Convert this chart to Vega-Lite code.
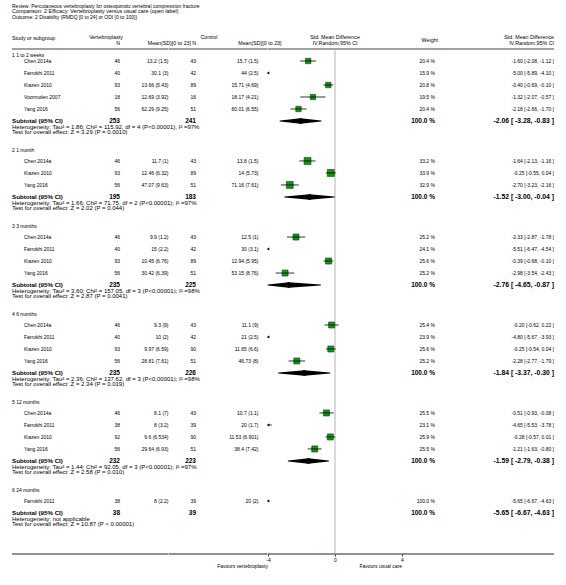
{
  "$schema": "https://vega.github.io/schema/vega-lite/v6.json",
  "padding": {"left": 11, "top": 0, "right": 14, "bottom": 0},
  "spacing": 0,
  "bounds": "flush",
  "config": {
    "view": {"stroke": null},
    "axisY": {"disable": true},
    "text": {"font": "Liberation Sans", "fontSize": 5, "baseline": "middle", "color": "#000000"},
    "axis": {"labelFont": "Liberation Sans", "titleFont": "Liberation Sans"},
    "locale": {"number": {"decimal": ".", "thousands": ",", "grouping": [3], "currency": ["$", ""], "percent": " %", "minus": "-"}}
  },
  "datasets": {
    "studies": [
      {"group": 1, "row": 1, "study": "Chen 2014a", "n1": 46, "m1": "13.2 (1.5)", "n2": 43, "m2": "15.7 (1.5)", "weight": 0.204, "smd": -1.60, "lo": -2.08, "hi": -1.12, "ci": "-1.60 [-2.08, -1.12 ]"},
      {"group": 1, "row": 2, "study": "Farrokhi 2011", "n1": 40, "m1": "30.1 (3)", "n2": 42, "m2": "44 (2.5)", "weight": 0.159, "smd": -5.00, "lo": -5.89, "hi": -4.10, "ci": "-5.00 [-5.89, -4.10 ]"},
      {"group": 1, "row": 3, "study": "Kiazen 2010", "n1": 93, "m1": "13.66 (5.43)", "n2": 89, "m2": "15.71 (4.69)", "weight": 0.208, "smd": -0.40, "lo": -0.69, "hi": -0.10, "ci": "-0.40 [-0.69, -0.10 ]"},
      {"group": 1, "row": 4, "study": "Voormolen 2007", "n1": 18, "m1": "12.69 (3.92)", "n2": 16, "m2": "18.17 (4.21)", "weight": 0.195, "smd": -1.32, "lo": -2.07, "hi": -0.57, "ci": "-1.32 [-2.07, -0.57 ]"},
      {"group": 1, "row": 5, "study": "Yang 2016", "n1": 56, "m1": "62.29 (9.25)", "n2": 51, "m2": "80.01 (6.55)", "weight": 0.204, "smd": -2.18, "lo": -2.66, "hi": -1.70, "ci": "-2.18 [-2.66, -1.70 ]"},
      {"group": 2, "row": 9.33, "study": "Chen 2014a", "n1": 46, "m1": "11.7 (1)", "n2": 43, "m2": "13.8 (1.5)", "weight": 0.332, "smd": -1.64, "lo": -2.13, "hi": -1.16, "ci": "-1.64 [-2.13, -1.16 ]"},
      {"group": 2, "row": 10.33, "study": "Kiazen 2010", "n1": 93, "m1": "12.46 (6.32)", "n2": 89, "m2": "14 (5.73)", "weight": 0.339, "smd": -0.25, "lo": -0.55, "hi": 0.04, "ci": "-0.25 [-0.55, 0.04 ]"},
      {"group": 2, "row": 11.33, "study": "Yang 2016", "n1": 56, "m1": "47.07 (9.63)", "n2": 51, "m2": "71.16 (7.61)", "weight": 0.329, "smd": -2.70, "lo": -3.23, "hi": -2.16, "ci": "-2.70 [-3.23, -2.16 ]"},
      {"group": 3, "row": 15.67, "study": "Chen 2014a", "n1": 46, "m1": "9.9 (1.2)", "n2": 43, "m2": "12.5 (1)", "weight": 0.252, "smd": -2.33, "lo": -2.87, "hi": -1.78, "ci": "-2.33 [-2.87, -1.78 ]"},
      {"group": 3, "row": 16.67, "study": "Farrokhi 2011", "n1": 40, "m1": "15 (2.2)", "n2": 42, "m2": "30 (3.1)", "weight": 0.241, "smd": -5.51, "lo": -6.47, "hi": -4.54, "ci": "-5.51 [-6.47, -4.54 ]"},
      {"group": 3, "row": 17.67, "study": "Kiazen 2010", "n1": 93, "m1": "10.45 (6.76)", "n2": 89, "m2": "12.94 (5.95)", "weight": 0.256, "smd": -0.39, "lo": -0.68, "hi": -0.10, "ci": "-0.39 [-0.68, -0.10 ]"},
      {"group": 3, "row": 18.67, "study": "Yang 2016", "n1": 56, "m1": "30.42 (6.39)", "n2": 51, "m2": "53.15 (8.76)", "weight": 0.252, "smd": -2.98, "lo": -3.54, "hi": -2.43, "ci": "-2.98 [-3.54, -2.43 ]"},
      {"group": 4, "row": 23, "study": "Chen 2014a", "n1": 46, "m1": "9.3 (9)", "n2": 43, "m2": "11.1 (9)", "weight": 0.254, "smd": -0.20, "lo": -0.62, "hi": 0.22, "ci": "-0.20 [-0.62, 0.22 ]"},
      {"group": 4, "row": 24, "study": "Farrokhi 2011", "n1": 40, "m1": "10 (2)", "n2": 42, "m2": "21 (2.5)", "weight": 0.239, "smd": -4.80, "lo": -5.67, "hi": -3.93, "ci": "-4.80 [-5.67, -3.93 ]"},
      {"group": 4, "row": 25, "study": "Kiazen 2010", "n1": 93, "m1": "9.97 (6.59)", "n2": 90, "m2": "11.65 (6.6)", "weight": 0.256, "smd": -0.25, "lo": -0.54, "hi": 0.04, "ci": "-0.25 [-0.54, 0.04 ]"},
      {"group": 4, "row": 26, "study": "Yang 2016", "n1": 56, "m1": "28.81 (7.61)", "n2": 51, "m2": "46.73 (8)", "weight": 0.252, "smd": -2.28, "lo": -2.77, "hi": -1.79, "ci": "-2.28 [-2.77, -1.79 ]"},
      {"group": 5, "row": 30.33, "study": "Chen 2014a", "n1": 46, "m1": "8.1 (7)", "n2": 43, "m2": "10.7 (1.1)", "weight": 0.255, "smd": -0.51, "lo": -0.93, "hi": -0.08, "ci": "-0.51 [-0.93, -0.08 ]"},
      {"group": 5, "row": 31.33, "study": "Farrokhi 2011", "n1": 38, "m1": "8 (3.2)", "n2": 39, "m2": "20 (1.7)", "weight": 0.231, "smd": -4.65, "lo": -5.53, "hi": -3.78, "ci": "-4.65 [-5.53, -3.78 ]"},
      {"group": 5, "row": 32.33, "study": "Kiazen 2010", "n1": 92, "m1": "9.6 (6.534)", "n2": 90, "m2": "11.53 (6.901)", "weight": 0.259, "smd": -0.28, "lo": -0.57, "hi": 0.01, "ci": "-0.28 [-0.57, 0.01 ]"},
      {"group": 5, "row": 33.33, "study": "Yang 2016", "n1": 56, "m1": "29.64 (6.93)", "n2": 51, "m2": "38.4 (7.42)", "weight": 0.255, "smd": -1.21, "lo": -1.63, "hi": -0.80, "ci": "-1.21 [-1.63, -0.80 ]"},
      {"group": 6, "row": 37.67, "study": "Farrokhi 2011", "n1": 38, "m1": "8 (2.2)", "n2": 39, "m2": "20 (2)", "weight": 1.0, "smd": -5.65, "lo": -6.67, "hi": -4.63, "ci": "-5.65 [-6.67, -4.63 ]"}
    ],
    "subtotals": [
      {"group": 1, "row": 6, "n1": 253, "n2": 241, "weight": 1.0, "smd": -2.06, "lo": -3.28, "hi": -0.83, "ci": "-2.06 [ -3.28, -0.83 ]", "het": "Heterogeneity: Tau² = 1.86; Chi² = 115.92, df = 4 (P<0.00001); I² =97%", "test": "Test for overall effect: Z = 3.29 (P = 0.0010)"},
      {"group": 2, "row": 12.33, "n1": 195, "n2": 183, "weight": 1.0, "smd": -1.52, "lo": -3.00, "hi": -0.04, "ci": "-1.52 [ -3.00, -0.04 ]", "het": "Heterogeneity: Tau² = 1.66; Chi² = 71.75, df = 2 (P<0.00001); I² =97%", "test": "Test for overall effect: Z = 2.02 (P = 0.044)"},
      {"group": 3, "row": 19.67, "n1": 235, "n2": 225, "weight": 1.0, "smd": -2.76, "lo": -4.65, "hi": -0.87, "ci": "-2.76 [ -4.65, -0.87 ]", "het": "Heterogeneity: Tau² = 3.60; Chi² = 157.05, df = 3 (P<0.00001); I² =98%", "test": "Test for overall effect: Z = 2.87 (P = 0.0041)"},
      {"group": 4, "row": 27, "n1": 235, "n2": 226, "weight": 1.0, "smd": -1.84, "lo": -3.37, "hi": -0.30, "ci": "-1.84 [ -3.37, -0.30 ]", "het": "Heterogeneity: Tau² = 2.36; Chi² = 137.62, df = 3 (P<0.00001); I² =98%", "test": "Test for overall effect: Z = 2.34 (P = 0.019)"},
      {"group": 5, "row": 34.33, "n1": 232, "n2": 223, "weight": 1.0, "smd": -1.59, "lo": -2.79, "hi": -0.38, "ci": "-1.59 [ -2.79, -0.38 ]", "het": "Heterogeneity: Tau² = 1.44; Chi² = 92.05, df = 3 (P<0.00001); I² =97%", "test": "Test for overall effect: Z = 2.58 (P = 0.010)"},
      {"group": 6, "row": 38.67, "n1": 38, "n2": 39, "weight": 1.0, "smd": -5.65, "lo": -6.67, "hi": -4.63, "ci": "-5.65 [ -6.67, -4.63 ]", "het": "Heterogeneity: not applicable", "test": "Test for overall effect: Z = 10.87 (P < 0.00001)"}
    ],
    "groups": [
      {"row": 0.5, "label": "1 1 to 2 weeks"},
      {"row": 8.42, "label": "2 1 month"},
      {"row": 14.75, "label": "3 3 months"},
      {"row": 22.08, "label": "4 6 months"},
      {"row": 29.42, "label": "5 12 months"},
      {"row": 36.75, "label": "6 24 months"}
    ],
    "favours": [
      {"label": "Favours vertebroplasty", "at": -4},
      {"label": "Favours usual care", "at": 4}
    ]
  },
  "hconcat": [
    {
      "width": 89, "height": 585,
      "layer": [
        {"data": {"values": [{}]}, "mark": {"type": "rule", "stroke": "#444444", "strokeWidth": 1}, "encoding": {"y": {"datum": 0, "type": "quantitative", "scale": {"domain": [-4.0833, 44.6667], "reverse": true, "nice": false, "zero": false}}}},
        {"data": {"values": [{}]}, "mark": {"type": "rule", "stroke": "#222222", "strokeWidth": 1}, "encoding": {"y": {"datum": 42.083, "type": "quantitative"}}},
        {"data": {"values": [{}]}, "mark": {"type": "text", "align": "left", "x": 0}, "encoding": {"y": {"datum": -3.58, "type": "quantitative"}, "text": {"value": "Review: Percutaneous vertebroplasty for osteoporotic vertebral compression fracture"}}},
        {"data": {"values": [{}]}, "mark": {"type": "text", "align": "left", "x": 0, "fontSize": 5.4}, "encoding": {"y": {"datum": -3.13, "type": "quantitative"}, "text": {"value": "Comparison: 2 Efficacy: Vertebroplasty versus usual care (open label)"}}},
        {"data": {"values": [{}]}, "mark": {"type": "text", "align": "left", "x": 0}, "encoding": {"y": {"datum": -2.67, "type": "quantitative"}, "text": {"value": "Outcome: 2 Disability (RMDQ [0 to 24] or ODI [0 to 100])"}}},
        {"data": {"values": [{}]}, "mark": {"type": "text", "align": "left", "x": 0, "fontSize": 5.3}, "encoding": {"y": {"datum": -0.92, "type": "quantitative"}, "text": {"value": "Study or subgroup"}}},
        {"data": {"name": "groups"}, "mark": {"type": "text", "align": "left", "x": 0}, "encoding": {"y": {"field": "row", "type": "quantitative"}, "text": {"field": "label", "type": "nominal"}}},
        {"data": {"name": "studies"}, "mark": {"type": "text", "align": "left", "x": 0, "dx": 12}, "encoding": {"y": {"field": "row", "type": "quantitative"}, "text": {"field": "study", "type": "nominal"}}},
        {"data": {"name": "subtotals"}, "mark": {"type": "text", "align": "left", "x": 0, "fontSize": 6.2, "fontWeight": "bold"}, "encoding": {"y": {"field": "row", "type": "quantitative"}, "text": {"value": "Subtotal (95% CI)"}}},
        {"data": {"name": "subtotals"}, "mark": {"type": "text", "align": "left", "x": 0, "dy": 5.6, "fontSize": 6}, "encoding": {"y": {"field": "row", "type": "quantitative"}, "text": {"field": "het", "type": "nominal"}}},
        {"data": {"name": "subtotals"}, "mark": {"type": "text", "align": "left", "x": 0, "dy": 10.8, "fontSize": 6}, "encoding": {"y": {"field": "row", "type": "quantitative"}, "text": {"field": "test", "type": "nominal"}}}
      ]
    },
    {
      "width": 19, "height": 585,
      "layer": [
        {"data": {"values": [{}]}, "mark": {"type": "rule", "stroke": "#444444", "strokeWidth": 1}, "encoding": {"y": {"datum": 0, "type": "quantitative", "scale": {"domain": [-4.0833, 44.6667], "reverse": true, "nice": false, "zero": false}}}},
        {"data": {"values": [{}]}, "mark": {"type": "rule", "stroke": "#222222", "strokeWidth": 1}, "encoding": {"y": {"datum": 42.083, "type": "quantitative"}}},
        {"data": {"values": [{}]}, "mark": {"type": "text", "align": "right", "x": "width", "dx": 3, "fontSize": 5.3}, "encoding": {"y": {"datum": -1.04, "type": "quantitative"}, "text": {"value": "Vertebroplasty"}}},
        {"data": {"values": [{}]}, "mark": {"type": "text", "align": "right", "x": "width", "fontSize": 5.3}, "encoding": {"y": {"datum": -0.54, "type": "quantitative"}, "text": {"value": "N"}}},
        {"data": {"name": "studies"}, "mark": {"type": "text", "align": "right", "x": "width"}, "encoding": {"y": {"field": "row", "type": "quantitative"}, "text": {"field": "n1", "type": "nominal"}}},
        {"data": {"name": "subtotals"}, "mark": {"type": "text", "align": "right", "x": "width", "fontSize": 6.5, "fontWeight": "bold"}, "encoding": {"y": {"field": "row", "type": "quantitative"}, "text": {"field": "n1", "type": "nominal"}}}
      ]
    },
    {
      "width": 48.5, "height": 585,
      "layer": [
        {"data": {"values": [{}]}, "mark": {"type": "rule", "stroke": "#444444", "strokeWidth": 1}, "encoding": {"y": {"datum": 0, "type": "quantitative", "scale": {"domain": [-4.0833, 44.6667], "reverse": true, "nice": false, "zero": false}}}},
        {"data": {"values": [{}]}, "mark": {"type": "rule", "stroke": "#222222", "strokeWidth": 1}, "encoding": {"y": {"datum": 42.083, "type": "quantitative"}}},
        {"data": {"values": [{}]}, "mark": {"type": "text", "align": "right", "x": "width", "dx": 22.5, "fontSize": 5.3}, "encoding": {"y": {"datum": -0.54, "type": "quantitative"}, "text": {"value": "Mean(SD)[0 to 23]"}}},
        {"data": {"name": "studies"}, "mark": {"type": "text", "align": "right", "x": "width"}, "encoding": {"y": {"field": "row", "type": "quantitative"}, "text": {"field": "m1", "type": "nominal"}}}
      ]
    },
    {
      "width": 27, "height": 585,
      "layer": [
        {"data": {"values": [{}]}, "mark": {"type": "rule", "stroke": "#444444", "strokeWidth": 1}, "encoding": {"y": {"datum": 0, "type": "quantitative", "scale": {"domain": [-4.0833, 44.6667], "reverse": true, "nice": false, "zero": false}}}},
        {"data": {"values": [{}]}, "mark": {"type": "rule", "stroke": "#222222", "strokeWidth": 1}, "encoding": {"y": {"datum": 42.083, "type": "quantitative"}}},
        {"data": {"values": [{}]}, "mark": {"type": "text", "align": "right", "x": "width", "dx": 21.5, "fontSize": 5.3}, "encoding": {"y": {"datum": -1.04, "type": "quantitative"}, "text": {"value": "Control"}}},
        {"data": {"values": [{}]}, "mark": {"type": "text", "align": "right", "x": "width", "fontSize": 5.3}, "encoding": {"y": {"datum": -0.54, "type": "quantitative"}, "text": {"value": "N"}}},
        {"data": {"name": "studies"}, "mark": {"type": "text", "align": "right", "x": "width"}, "encoding": {"y": {"field": "row", "type": "quantitative"}, "text": {"field": "n2", "type": "nominal"}}},
        {"data": {"name": "subtotals"}, "mark": {"type": "text", "align": "right", "x": "width", "fontSize": 6.5, "fontWeight": "bold"}, "encoding": {"y": {"field": "row", "type": "quantitative"}, "text": {"field": "n2", "type": "nominal"}}}
      ]
    },
    {
      "width": 71.5, "height": 585,
      "layer": [
        {"data": {"values": [{}]}, "mark": {"type": "rule", "stroke": "#444444", "strokeWidth": 1}, "encoding": {"y": {"datum": 0, "type": "quantitative", "scale": {"domain": [-4.0833, 44.6667], "reverse": true, "nice": false, "zero": false}}}},
        {"data": {"values": [{}]}, "mark": {"type": "rule", "stroke": "#222222", "strokeWidth": 1}, "encoding": {"y": {"datum": 42.083, "type": "quantitative"}}},
        {"data": {"values": [{}]}, "mark": {"type": "text", "align": "right", "x": "width", "dx": 14, "fontSize": 5.3}, "encoding": {"y": {"datum": -0.54, "type": "quantitative"}, "text": {"value": "Mean(SD)[0 to 23]"}}},
        {"data": {"name": "studies"}, "mark": {"type": "text", "align": "right", "x": "width", "dx": -9}, "encoding": {"y": {"field": "row", "type": "quantitative"}, "text": {"field": "m2", "type": "nominal"}}}
      ]
    },
    {
      "width": 134, "height": 585,
      "resolve": {"scale": {"size": "independent"}},
      "layer": [
        {"data": {"values": [{}]}, "mark": {"type": "rule", "stroke": "#444444", "strokeWidth": 1}, "encoding": {"y": {"datum": 0, "type": "quantitative", "scale": {"domain": [-4.0833, 44.6667], "reverse": true, "nice": false, "zero": false}}}},
        {"data": {"values": [{}]}, "mark": {"type": "rule", "stroke": "#222222", "strokeWidth": 1}, "encoding": {"y": {"datum": 42.083, "type": "quantitative"}}},
        {"data": {"values": [{}]}, "mark": {"type": "rule", "stroke": "#b4b4b4", "strokeWidth": 1}, "encoding": {
          "x": {"datum": 0, "type": "quantitative", "scale": {"domain": [-4, 4], "clamp": true, "nice": false, "zero": false},
                "axis": {"orient": "bottom", "offset": -31, "values": [-4, -2, 0, 2, 4], "domain": false, "grid": false, "title": null, "tickSize": 2, "tickWidth": 0.8, "tickColor": "#000000", "labelFontSize": 5, "labelPadding": 1, "labelColor": "#000000", "labelFlush": false, "labelOverlap": false}},
          "y": {"datum": 0, "type": "quantitative"},
          "y2": {"datum": 42.083}}},
        {"data": {"values": [{}]}, "mark": {"type": "text", "align": "center", "fontSize": 5.3}, "encoding": {"x": {"datum": 0, "type": "quantitative"}, "y": {"datum": -1.04, "type": "quantitative"}, "text": {"value": "Std. Mean Difference"}}},
        {"data": {"values": [{}]}, "mark": {"type": "text", "align": "center", "fontSize": 5.3}, "encoding": {"x": {"datum": 0, "type": "quantitative"}, "y": {"datum": -0.54, "type": "quantitative"}, "text": {"value": "IV,Random,95% CI"}}},
        {"data": {"name": "studies"}, "transform": [{"filter": "datum.smd >= -4"}], "mark": {"type": "point", "shape": "square", "filled": true, "fill": "#119911", "stroke": "#034503", "strokeWidth": 0.6, "opacity": 1}, "encoding": {
          "x": {"field": "smd", "type": "quantitative"},
          "y": {"field": "row", "type": "quantitative"},
          "size": {"field": "weight", "type": "quantitative", "scale": {"domain": [0, 0.35], "range": [0, 50]}, "legend": null}}},
        {"data": {"name": "studies"}, "mark": {"type": "rule", "stroke": "#000000", "strokeWidth": 0.8}, "encoding": {
          "x": {"field": "lo", "type": "quantitative"},
          "x2": {"field": "hi"},
          "y": {"field": "row", "type": "quantitative"}}},
        {"data": {"name": "studies"}, "transform": [{"filter": "datum.lo < -4"}], "mark": {"type": "point", "shape": "triangle-left", "filled": true, "color": "#000000", "size": 9, "opacity": 1}, "encoding": {
          "x": {"field": "lo", "type": "quantitative"},
          "y": {"field": "row", "type": "quantitative"}}},
        {"data": {"name": "subtotals"}, "transform": [{"filter": "datum.hi >= -4"}, {"fold": ["lo", "smd"], "as": ["k", "v"]}], "mark": {"type": "trail", "color": "#000000"}, "encoding": {
          "x": {"field": "v", "type": "quantitative"},
          "y": {"field": "row", "type": "quantitative"},
          "size": {"field": "k", "type": "ordinal", "scale": {"domain": ["lo", "smd"], "range": [0, 5.5], "padding": 0}, "legend": null},
          "detail": {"field": "group"},
          "order": {"field": "v", "type": "quantitative"}}},
        {"data": {"name": "subtotals"}, "transform": [{"filter": "datum.hi >= -4"}, {"fold": ["smd", "hi"], "as": ["k", "v"]}], "mark": {"type": "trail", "color": "#000000"}, "encoding": {
          "x": {"field": "v", "type": "quantitative"},
          "y": {"field": "row", "type": "quantitative"},
          "size": {"field": "k", "type": "ordinal", "scale": {"domain": ["hi", "smd"], "range": [0, 5.5], "padding": 0}, "legend": null},
          "detail": {"field": "group"},
          "order": {"field": "v", "type": "quantitative"}}},
        {"data": {"name": "favours"}, "mark": {"type": "text", "align": "right"}, "encoding": {
          "x": {"field": "at", "type": "quantitative"},
          "y": {"datum": 43.08, "type": "quantitative"},
          "text": {"field": "label", "type": "nominal"}}}
      ]
    },
    {
      "width": 33, "height": 585,
      "layer": [
        {"data": {"values": [{}]}, "mark": {"type": "rule", "stroke": "#444444", "strokeWidth": 1}, "encoding": {"y": {"datum": 0, "type": "quantitative", "scale": {"domain": [-4.0833, 44.6667], "reverse": true, "nice": false, "zero": false}}}},
        {"data": {"values": [{}]}, "mark": {"type": "rule", "stroke": "#222222", "strokeWidth": 1}, "encoding": {"y": {"datum": 42.083, "type": "quantitative"}}},
        {"data": {"values": [{}]}, "mark": {"type": "text", "align": "right", "x": "width", "dx": 3, "fontSize": 5.3}, "encoding": {"y": {"datum": -0.75, "type": "quantitative"}, "text": {"value": "Weight"}}},
        {"data": {"name": "studies"}, "mark": {"type": "text", "align": "right", "x": "width"}, "encoding": {"y": {"field": "row", "type": "quantitative"}, "text": {"field": "weight", "type": "quantitative", "format": ".1%"}}},
        {"data": {"name": "subtotals"}, "mark": {"type": "text", "align": "right", "x": "width", "fontSize": 6.5, "fontWeight": "bold"}, "encoding": {"y": {"field": "row", "type": "quantitative"}, "text": {"field": "weight", "type": "quantitative", "format": ".1%"}}}
      ]
    },
    {
      "width": 119, "height": 585,
      "layer": [
        {"data": {"values": [{}]}, "mark": {"type": "rule", "stroke": "#444444", "strokeWidth": 1}, "encoding": {"y": {"datum": 0, "type": "quantitative", "scale": {"domain": [-4.0833, 44.6667], "reverse": true, "nice": false, "zero": false}}}},
        {"data": {"values": [{}]}, "mark": {"type": "rule", "stroke": "#222222", "strokeWidth": 1}, "encoding": {"y": {"datum": 42.083, "type": "quantitative"}}},
        {"data": {"values": [{}]}, "mark": {"type": "text", "align": "right", "x": "width", "fontSize": 5.3}, "encoding": {"y": {"datum": -1.04, "type": "quantitative"}, "text": {"value": "Std. Mean Difference"}}},
        {"data": {"values": [{}]}, "mark": {"type": "text", "align": "right", "x": "width", "fontSize": 5.3}, "encoding": {"y": {"datum": -0.54, "type": "quantitative"}, "text": {"value": "IV,Random,95% CI"}}},
        {"data": {"name": "studies"}, "mark": {"type": "text", "align": "right", "x": "width"}, "encoding": {"y": {"field": "row", "type": "quantitative"}, "text": {"field": "ci", "type": "nominal"}}},
        {"data": {"name": "subtotals"}, "mark": {"type": "text", "align": "right", "x": "width", "fontSize": 6.8, "fontWeight": "bold"}, "encoding": {"y": {"field": "row", "type": "quantitative"}, "text": {"field": "ci", "type": "nominal"}}}
      ]
    }
  ]
}
